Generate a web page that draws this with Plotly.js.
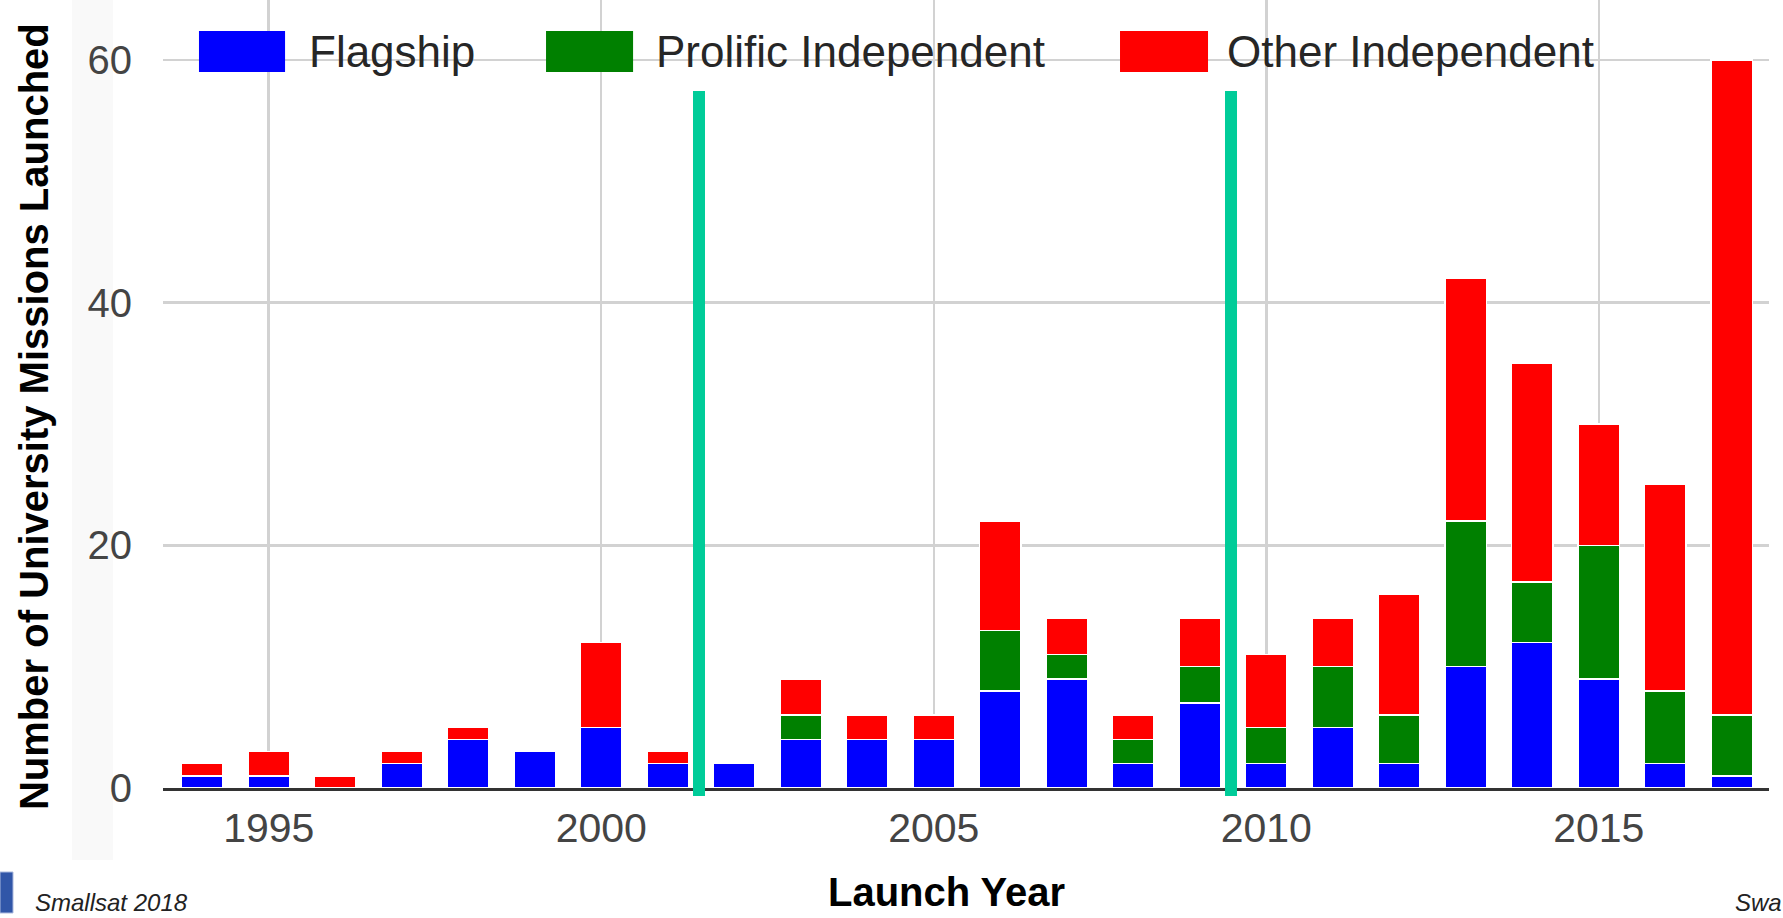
<!DOCTYPE html>
<html>
<head>
<meta charset="utf-8">
<script src="https://cdn.plot.ly/plotly-3.0.1.min.js"></script>
<style>
  html, body { margin: 0; padding: 0; background: #ffffff; }
  #chart { width: 1783px; height: 918px; }
</style>
</head>
<body>
<div id="chart"></div>
<script>
// ---- data ----
const years = [1994, 1995, 1996, 1997, 1998, 1999, 2000, 2001, 2002, 2003, 2004, 2005,
               2006, 2007, 2008, 2009, 2010, 2011, 2012, 2013, 2014, 2015, 2016, 2017];
const flagship  = [1, 1, 0, 2, 4, 3, 5, 2, 2, 4, 4, 4, 8, 9, 2, 7, 2, 5, 2, 10, 12, 9, 2, 1];
const prolific  = [0, 0, 0, 0, 0, 0, 0, 0, 0, 2, 0, 0, 5, 2, 2, 3, 3, 5, 4, 12, 5, 11, 6, 5];
const other     = [1, 2, 1, 1, 1, 0, 7, 1, 0, 3, 2, 2, 9, 3, 2, 4, 6, 4, 10, 20, 18, 10, 17, 54];
const seriesNames  = ["Flagship", "Prolific Independent", "Other Independent"];
const seriesColors = ["#0000FF", "#008000", "#FF0000"];
const eraBoundaries = [2001.47, 2009.47];
const xTickVals = [1995, 2000, 2005, 2010, 2015];
const yTickVals = [0, 20, 40, 60];

// ---- layout constants (paper coords) ----
const FONT = "'Liberation Sans', Arial, Helvetica, sans-serif";
const legendSwatchX = [[0.0224, 0.0760], [0.2385, 0.2927], [0.5959, 0.6507]];
const legendTextX = [0.0897, 0.3057, 0.6613];

const values = [flagship, prolific, other];
const traces = values.map((v, i) => ({
  type: "bar",
  x: years,
  y: v,
  name: seriesNames[i],
  width: 0.63,
  marker: { color: seriesColors[i], line: { color: "#ffffff", width: 1.5 } },
  hoverinfo: "x+y+name"
}));

const shapes = [];
// faint strip behind y tick labels
shapes.push({ type: "rect", xref: "paper", yref: "paper", x0: -0.0567, x1: -0.0311, y0: -0.0914, y1: 1,
  fillcolor: "#f9f9f9", line: { width: 0 }, layer: "below" });
// white legend background (covers grid)
shapes.push({ type: "rect", xref: "paper", yref: "paper", x0: 0, x1: 0.9022, y0: 0.882, y1: 0.99,
  fillcolor: "#ffffff", line: { width: 0 }, layer: "between" });
// legend swatches
seriesColors.forEach((c, i) => {
  shapes.push({ type: "rect", xref: "paper", yref: "paper",
    x0: legendSwatchX[i][0], x1: legendSwatchX[i][1], y0: 0.9086, y1: 0.9607,
    fillcolor: c, line: { width: 0 }, layer: "above" });
});
// era boundary lines
eraBoundaries.forEach(b => {
  shapes.push({ type: "line", xref: "x", yref: "paper", x0: b, x1: b, y0: -0.0102, y1: 0.8845,
    line: { color: "#00CC99", width: 12 }, layer: "above" });
});
// logo block
shapes.push({ type: "rect", xref: "paper", yref: "paper", x0: -0.1015, x1: -0.0934, y0: -0.1586, y1: -0.1066,
  fillcolor: "#3156a8", line: { color: "#a9b8dd", width: 1 }, layer: "above" });

const annotations = [];
seriesNames.forEach((n, i) => {
  annotations.push({ xref: "paper", yref: "paper", x: legendTextX[i], y: 0.9347,
    xanchor: "left", yanchor: "middle", showarrow: false, text: n,
    font: { family: FONT, size: 44, color: "#262626" } });
});
annotations.push({ xref: "paper", yref: "paper", x: -0.0803, y: 0.4708, xanchor: "center", yanchor: "middle",
  showarrow: false, textangle: -90, text: "<b>Number of University Missions Launched</b>",
  font: { family: FONT, size: 40, color: "#000000" } });
annotations.push({ xref: "paper", yref: "paper", x: 0.488, y: -0.132, xanchor: "center", yanchor: "middle",
  showarrow: false, text: "<b>Launch Year</b>",
  font: { family: FONT, size: 40, color: "#000000" } });
annotations.push({ xref: "paper", yref: "paper", x: -0.0809, y: -0.1447, xanchor: "left", yanchor: "middle",
  showarrow: false, text: "<i>Smallsat 2018</i>",
  font: { family: FONT, size: 24, color: "#222222" } });
annotations.push({ xref: "paper", yref: "paper", x: 0.9776, y: -0.1447, xanchor: "left", yanchor: "middle",
  showarrow: false, text: "<i>Swa</i>",
  font: { family: FONT, size: 24, color: "#222222" } });

const layout = {
  width: 1783, height: 918,
  margin: { l: 163, r: 14, t: 0, b: 130 },
  paper_bgcolor: "#ffffff",
  plot_bgcolor: "#ffffff",
  barmode: "stack",
  showlegend: false,
  font: { family: FONT },
  xaxis: {
    range: [1993.41, 2017.56],
    tickvals: xTickVals,
    ticktext: xTickVals.map(String),
    showgrid: true, gridcolor: "#d2d2d2", gridwidth: 2.5,
    showline: true, linecolor: "#333333", linewidth: 3,
    ticks: "", ticklabelstandoff: 2,
    tickfont: { family: FONT, size: 41, color: "#444444" },
    zeroline: false, fixedrange: true
  },
  yaxis: {
    range: [0, 64.95],
    tickvals: yTickVals,
    ticktext: yTickVals.map(String),
    showgrid: true, gridcolor: "#d2d2d2", gridwidth: 2.5,
    showline: false, zeroline: false,
    ticks: "", ticklabelstandoff: 30,
    tickfont: { family: FONT, size: 40, color: "#444444" },
    fixedrange: true
  },
  shapes: shapes,
  annotations: annotations
};

Plotly.newPlot("chart", traces, layout, { displayModeBar: false, staticPlot: true });
</script>
</body>
</html>
